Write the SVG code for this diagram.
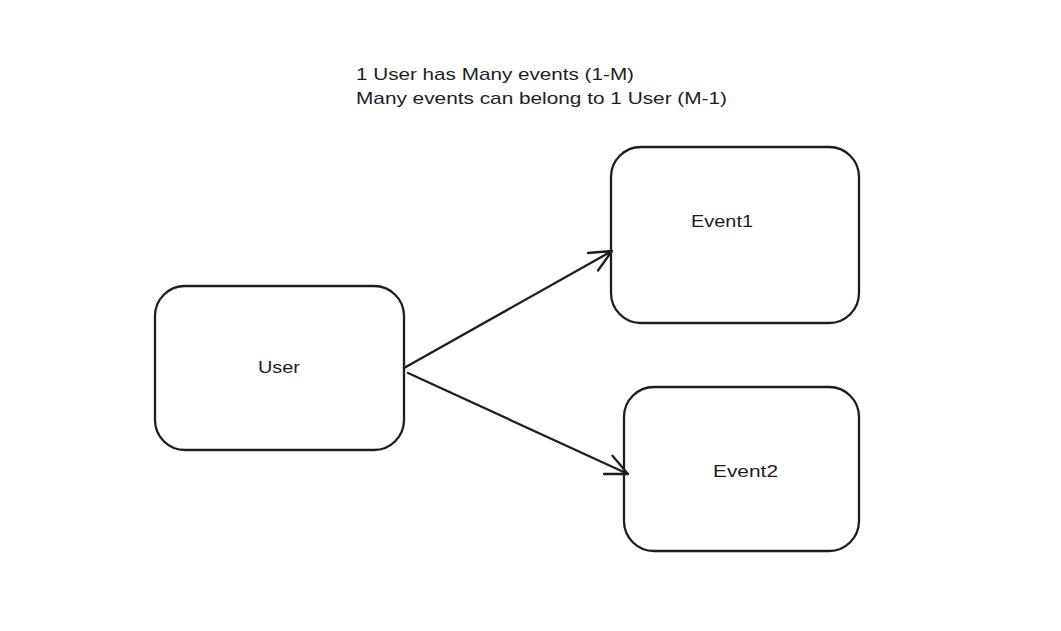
<svg xmlns="http://www.w3.org/2000/svg" width="1061" height="631" viewBox="0 0 1061 631">
<style>
.box{fill:none;stroke:#1e1e1e;stroke-width:2.3}
.lbl{font-family:"Liberation Sans",Arial,sans-serif;font-size:17px;fill:#1e1e1e}
.note{font-family:"Liberation Sans",Arial,sans-serif;font-size:17px;fill:#1e1e1e}
.conn{fill:none;stroke:#1e1e1e;stroke-width:2.3;stroke-linecap:round;stroke-linejoin:round}
</style>
<rect width="1061" height="631" fill="#ffffff"/>
<g id="note">
<text class="note" x="356" y="80" textLength="278" lengthAdjust="spacingAndGlyphs">1 User has Many events (1-M)</text>
<text class="note" x="356" y="104" textLength="371" lengthAdjust="spacingAndGlyphs">Many events can belong to 1 User (M-1)</text>
</g>
<g id="user">
<rect class="box" x="155" y="286" width="249" height="164" rx="30" ry="30"/>
<text class="lbl" x="258" y="373" textLength="42" lengthAdjust="spacingAndGlyphs">User</text>
</g>
<g id="event1">
<rect class="box" x="611" y="147" width="248" height="176" rx="30" ry="30"/>
<text class="lbl" x="691" y="227" textLength="62" lengthAdjust="spacingAndGlyphs">Event1</text>
</g>
<g id="event2">
<rect class="box" x="624" y="387" width="235" height="164" rx="30" ry="30"/>
<text class="lbl" x="713" y="477" textLength="65" lengthAdjust="spacingAndGlyphs">Event2</text>
</g>
<g id="connectors">
<path class="conn" d="M404 368 L612 251 M588 253 L612 251 L598 270.5"/>
<path class="conn" d="M408 373 L628 474 M612.5 455.7 L628 474 L604 474"/>
</g>
</svg>
